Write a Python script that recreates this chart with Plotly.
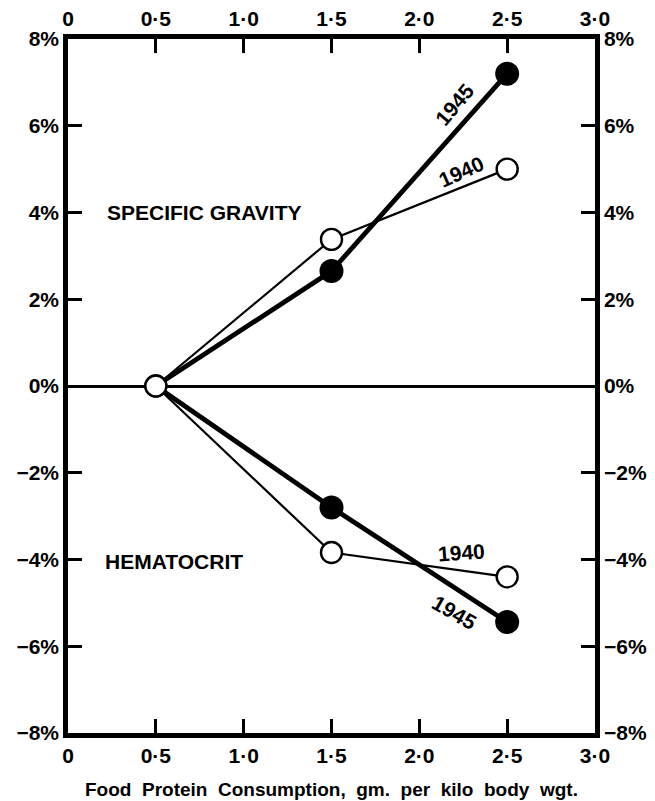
import plotly.graph_objects as go

protein = [0.5, 1.5, 2.5]
sg_1940 = [0.0, 3.38, 5.0]
sg_1945 = [0.0, 2.65, 7.2]
hct_1940 = [0.0, -3.84, -4.4]
hct_1945 = [0.0, -2.8, -5.44]

x_ticks = [0, 0.5, 1.0, 1.5, 2.0, 2.5, 3.0]
x_tick_labels = ["0", "0·5", "1·0", "1·5", "2·0", "2·5", "3·0"]
y_ticks = [-8, -6, -4, -2, 0, 2, 4, 6, 8]
y_tick_labels = ["−8%", "−6%", "−4%", "−2%", "0%", "2%", "4%", "6%", "8%"]
x_title = "Food  Protein  Consumption,  gm.  per  kilo  body  wgt."

FONT = "Liberation Sans"

fig = go.Figure()

for y, w in [(sg_1940, 2.2), (hct_1940, 2.2), (sg_1945, 4.8), (hct_1945, 4.8)]:
    fig.add_trace(go.Scatter(x=protein, y=y, mode="lines",
                             line=dict(color="black", width=w),
                             showlegend=False, hoverinfo="skip"))

for y in [sg_1945, hct_1945]:
    fig.add_trace(go.Scatter(x=protein[1:], y=y[1:], mode="markers",
                             marker=dict(symbol="circle", size=24, color="black"),
                             showlegend=False))
for y in [sg_1940, hct_1940]:
    fig.add_trace(go.Scatter(x=protein, y=y, mode="markers",
                             marker=dict(symbol="circle", size=21, color="white",
                                         line=dict(color="black", width=2.4)),
                             showlegend=False))

# dummy trace for secondary axes
fig.add_trace(go.Scatter(x=[0, 3], y=[0, 0], xaxis="x2", yaxis="y2",
                         mode="markers", marker=dict(opacity=0),
                         showlegend=False, hoverinfo="skip"))

labels = [
    dict(x=0.21, y=4.0, text="<b>SPECIFIC GRAVITY</b>", xanchor="left", angle=0),
    dict(x=0.20, y=-4.04, text="<b>HEMATOCRIT</b>", xanchor="left", angle=0),
    dict(x=2.20, y=6.49, text="<b>1945</b>", xanchor="center", angle=-50),
    dict(x=2.24, y=4.94, text="<b>1940</b>", xanchor="center", angle=-24),
    dict(x=2.24, y=-3.84, text="<b>1940</b>", xanchor="center", angle=-4),
    dict(x=2.20, y=-5.22, text="<b>1945</b>", xanchor="center", angle=30),
]
for l in labels:
    fig.add_annotation(x=l["x"], y=l["y"], text=l["text"], showarrow=False,
                       xanchor=l["xanchor"], yanchor="middle", textangle=l["angle"],
                       font=dict(family=FONT, size=21, color="black"))

fig.add_annotation(x=0.5, y=-0.082, xref="paper", yref="paper", text="<b>%s</b>" % x_title,
                   showarrow=False, xanchor="center", yanchor="middle",
                   font=dict(family=FONT, size=19, color="black"))

axis_common = dict(showgrid=False, ticks="inside", ticklen=14, tickwidth=2.5,
                   tickcolor="black", linecolor="black", linewidth=4.5,
                   automargin=False,
                   tickfont=dict(family=FONT, size=21, color="black"))

def bold(lst):
    return ["<b>%s</b>" % s for s in lst]

fig.update_layout(
    width=647, height=793,
    margin=dict(l=60, r=60, t=31, b=68),
    paper_bgcolor="white", plot_bgcolor="white",
    xaxis=dict(range=[0, 3], tickvals=x_ticks, ticktext=bold(x_tick_labels),
               showline=True, mirror=False, zeroline=False, **axis_common),
    xaxis2=dict(range=[0, 3], tickvals=x_ticks, ticktext=bold(x_tick_labels),
                overlaying="x", side="top", showline=True, zeroline=False,
                **axis_common),
    yaxis=dict(range=[-8, 8], tickvals=y_ticks, ticktext=bold(y_tick_labels),
               showline=True, zeroline=True, zerolinecolor="black", zerolinewidth=3,
               **axis_common),
    yaxis2=dict(range=[-8, 8], tickvals=y_ticks, ticktext=bold(y_tick_labels),
                overlaying="y", side="right", showline=True, zeroline=False,
                **axis_common),
)

fig.write_html("out.html")
